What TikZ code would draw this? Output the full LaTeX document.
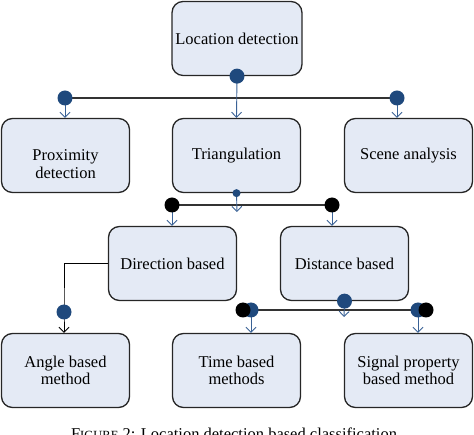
\documentclass[tikz,border=0pt]{standalone}
\usepackage{fontspec}
\setmainfont{Liberation Serif}
\usetikzlibrary{arrows.meta}

\definecolor{boxfill}{RGB}{228,234,245}
\definecolor{dotblue}{RGB}{31,73,125}
\definecolor{arrowblue}{RGB}{58,98,150}

\tikzset{
  box/.style={draw=black!85, line width=1.3pt, rounded corners=11pt, fill=boxfill,
    minimum width=128pt, minimum height=74pt, align=center,
    font=\fontsize{16.5}{17.5}\selectfont},
  down/.style={-{Straight Barb[length=5pt,width=10pt]}, arrowblue, line width=0.9pt},
  bus/.style={black!80, line width=1.3pt}
}

\begin{document}
\begin{tikzpicture}[x=1pt,y=-1pt]

    \useasboundingbox (0,0) rectangle (474,435);
    \clip (0,0) rectangle (474,435);

    % boxes
    \node[box] (loc) at (237,38.5) {Location detection};

    \node[box] (prox) at (65.5,155.5) {\rule{0pt}{28pt}Proximity\\detection};
    \node[box] (tri) at (236.5,155.5) {Triangulation};
    \node[box] (scene) at (408.5,155.5) {Scene analysis};

    \node[box] (dir) at (172.5,263.5) {Direction based};
    \node[box] (dist) at (344.5,263.5) {Distance based};

    \node[box] (angle) at (65.5,370.5) {Angle based\\method};
    \node[box] (time) at (236.5,370.5) {Time based\\methods};
    \node[box] (signal) at (408.5,370.5) {Signal property\\based method};

    % define coordinates
    \coordinate (bus_one_l) at (65,98) ;
    \coordinate (bus_one_r) at (397,98) ;

    \coordinate (bus_two_l) at (172,205) ;
    \coordinate (bus_two_r) at (332,205) ;
    \coordinate (tri_end) at (237,212) ;

    \coordinate (angle_dot) at (64,312) ;

    \coordinate (bus_three_l) at (243,310) ;
    \coordinate (bus_three_r) at (426,310) ;
    \coordinate (time_dot) at (251,310) ;
    \coordinate (signal_dot) at (418,310) ;
    \coordinate (dist_end) at (344,317) ;

    % first level
    \draw[bus] (bus_one_l) -- (bus_one_r) ;
    \draw[down] (loc.south) -- (tri.north) ;
    \draw[down] (bus_one_l) -- (bus_one_l |- prox.north) ;
    \draw[down] (bus_one_r) -- (bus_one_r |- scene.north) ;
    \fill[dotblue] (loc.south) circle (7.5);
    \fill[dotblue] (bus_one_l) circle (7.5);
    \fill[dotblue] (bus_one_r) circle (7.5);

    % triangulation
    \draw[bus] (bus_two_l) -- (bus_two_r) ;
    \draw[down] (tri.south) -- (tri_end) ;
    \draw[down] (bus_two_l) -- (bus_two_l |- dir.north) ;
    \draw[down] (bus_two_r) -- (bus_two_r |- dist.north) ;
    \fill[dotblue] (tri.south) circle (4);
    \fill[black] (bus_two_l) circle (7.5);
    \fill[black] (bus_two_r) circle (7.5);

    % direction based
    \draw[-{Straight Barb[length=5pt,width=10pt]}, black, line width=0.9pt]
        (dir.west) -| (angle_dot) -- (angle_dot |- angle.north) ;
    \fill[dotblue] (angle_dot) circle (7.5);

    % distance based
    \draw[bus] (bus_three_l) -- (bus_three_r) ;
    \draw[down] (dist.south) -- (dist_end) ;
    \draw[down] (time_dot) -- (time_dot |- time.north) ;
    \draw[down] (signal_dot) -- (signal_dot |- signal.north) ;
    \fill[dotblue] (dist.south) circle (7.5);
    \fill[dotblue] (time_dot) circle (7.5);
    \fill[dotblue] (signal_dot) circle (7.5);
    \fill[black] (bus_three_l) circle (7.5);
    \fill[black] (bus_three_r) circle (7.5);

    % caption
    \node[anchor=base, font=\fontsize{16.5}{17.5}\selectfont] (caption) at (234,439)
        {F{\fontsize{12.5}{13}\selectfont IGURE} 2: Location detection based classification};

\end{tikzpicture}
\end{document}
